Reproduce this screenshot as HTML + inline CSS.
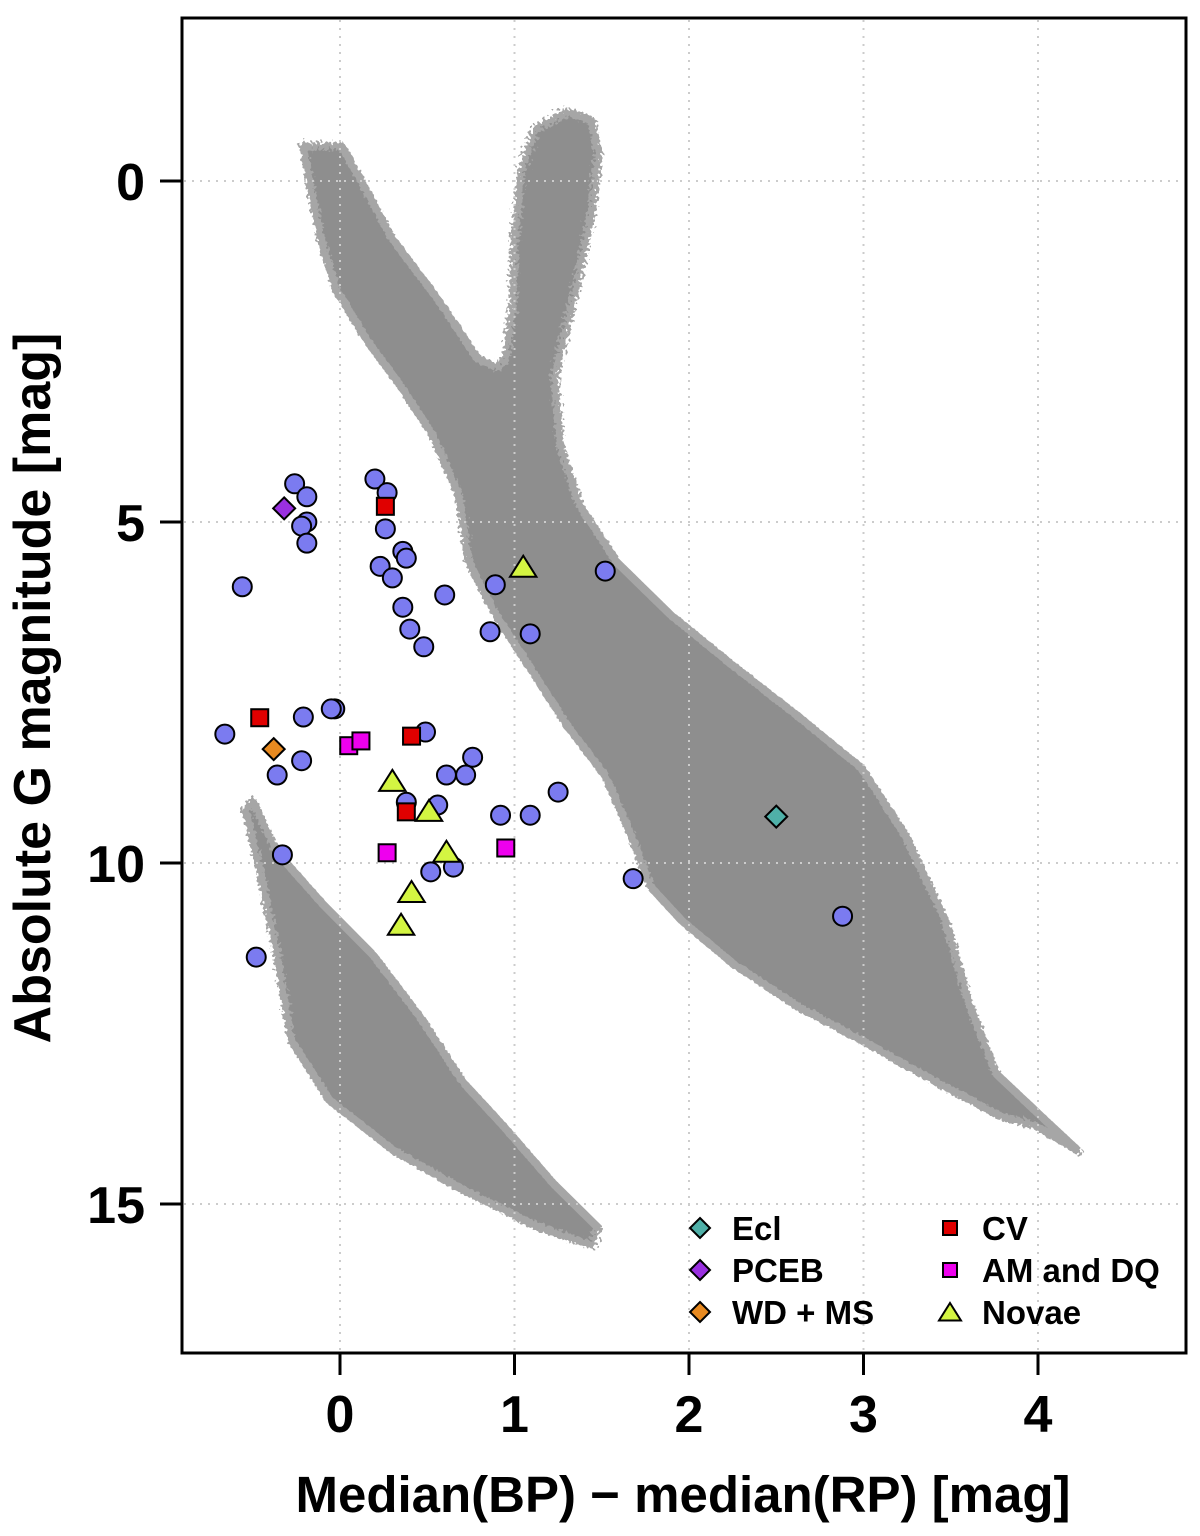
<!DOCTYPE html>
<html><head><meta charset="utf-8"><style>
html,body{margin:0;padding:0;background:#fff;}
svg{display:block;font-family:"Liberation Sans",Arial,sans-serif;}
</style></head><body>
<svg id="chart" width="1200" height="1536" viewBox="0 0 1200 1536">
<defs><filter id="fuzz" x="-5%" y="-5%" width="110%" height="110%"><feTurbulence type="fractalNoise" baseFrequency="0.35" numOctaves="1" seed="3" result="n"/><feDisplacementMap in="SourceGraphic" in2="n" scale="14"/></filter></defs>
<g id="bg"></g>
<g id="grid"></g>
<g id="marks"></g>
<rect x="182" y="18" width="1004" height="1335" fill="none" stroke="#000" stroke-width="3"/>
<g id="axes"></g>
<text x="683" y="1512" text-anchor="middle" font-size="51" font-weight="bold">Median(BP) − median(RP) [mag]</text>
<text transform="translate(50,688) rotate(-90)" text-anchor="middle" font-size="52" font-weight="bold">Absolute G magnitude [mag]</text>
<g id="legend"></g>
</svg>
<script>
const xTicks=[0,1,2,3,4];
const yTicks=[0,5,10,15];
const circX=[-0.26,-0.19,-0.19,-0.22,-0.19,-0.56,0.20,0.27,0.26,0.36,0.38,0.23,0.30,0.60,0.89,1.52,0.36,0.40,0.48,0.86,1.09,-0.03,-0.05,-0.21,-0.66,0.49,-0.22,-0.36,0.76,0.61,0.72,0.38,0.56,1.25,0.92,1.09,-0.33,0.52,0.65,1.68,-0.48,2.88];
const circY=[4.44,4.63,5.00,5.06,5.31,5.95,4.37,4.57,5.10,5.43,5.53,5.65,5.82,6.07,5.92,5.72,6.25,6.57,6.83,6.61,6.64,7.74,7.74,7.86,8.11,8.08,8.50,8.71,8.45,8.71,8.71,9.11,9.15,8.96,9.30,9.30,9.88,10.13,10.06,10.23,11.38,10.78];
const cvX=[0.26,-0.46,0.41,0.38];
const cvY=[4.77,7.87,8.14,9.25];
const amX=[0.05,0.12,0.27,0.95];
const amY=[8.28,8.21,9.85,9.78];
const novaX=[1.05,0.30,0.51,0.61,0.41,0.35];
const novaY=[5.67,8.81,9.25,9.85,10.44,10.92];
const pcebX=[-0.32], pcebY=[4.80];
const wdmsX=[-0.38], wdmsY=[8.33];
const eclX=[2.50], eclY=[9.32];
// background population outlines (colour, mag)
const msX=[-0.21,-0.17,-0.11,-0.02,0.16,0.34,0.53,0.68,0.74,0.89,1.08,1.30,1.52,1.67,1.78,1.96,2.25,2.62,2.99,3.43,3.79,3.98,4.23,4.02,3.76,3.61,3.47,3.24,2.99,2.62,2.25,1.89,1.59,1.37,1.26,1.23,1.30,1.37,1.44,1.48,1.44,1.30,1.12,1.04,1.00,0.99,0.95,0.89,0.79,0.56,0.30,0.12,0.01];
const msY=[-0.51,0.10,0.85,1.60,2.36,2.98,3.72,4.60,5.60,6.35,7.10,7.98,8.72,9.60,10.35,10.85,11.47,12.10,12.60,13.23,13.72,13.84,14.22,13.72,13.09,12.10,10.85,9.60,8.61,7.84,7.10,6.35,5.60,4.74,3.86,2.86,2.11,1.35,0.48,-0.40,-0.89,-1.01,-0.76,-0.15,0.85,1.86,2.61,2.73,2.61,1.73,0.85,-0.01,-0.51];
const wdX=[-0.54,-0.46,-0.36,-0.28,-0.06,0.31,0.74,1.15,1.44,1.48,1.23,0.93,0.71,0.45,0.19,-0.10,-0.36,-0.50];
const wdY=[9.22,10.10,11.35,12.60,13.48,14.22,14.84,15.35,15.60,15.35,14.72,13.84,13.23,12.23,11.35,10.60,9.85,9.09];

const X=v=>340+v*174.5, Y=v=>181+v*68.2;
const NS='http://www.w3.org/2000/svg';
function mk(tag,attrs,parent){const e=document.createElementNS(NS,tag);for(const k in attrs)e.setAttribute(k,attrs[k]);parent.appendChild(e);return e;}
const bg=document.getElementById('bg'),grid=document.getElementById('grid'),marks=document.getElementById('marks'),axes=document.getElementById('axes'),leg=document.getElementById('legend');
function poly(xs,ys,name){const p=mk('polygon',{points:xs.map((x,i)=>X(x)+','+Y(ys[i])).join(' '),fill:'#8e8e8e',stroke:'#a6a6a6','stroke-width':8,'stroke-linejoin':'round',filter:'url(#fuzz)'},bg);

}
poly(msX,msY,'main-sequence-and-giants');
poly(wdX,wdY,'white-dwarf-sequence');
xTicks.forEach(t=>{const l=mk('line',{x1:X(t),x2:X(t),y1:20,y2:1351,stroke:'#ccc','stroke-width':2,'stroke-dasharray':'2 6'},grid);


const tk=mk('line',{x1:X(t),x2:X(t),y1:1353,y2:1375,stroke:'#000','stroke-width':3},axes);


const tx=mk('text',{x:X(t),y:1432,'text-anchor':'middle','font-size':52,'font-weight':'bold'},axes);tx.textContent=t;

});
yTicks.forEach(t=>{const l=mk('line',{x1:184,x2:1184,y1:Y(t),y2:Y(t),stroke:'#ccc','stroke-width':2,'stroke-dasharray':'2 6'},grid);


const tk=mk('line',{x1:160,x2:182,y1:Y(t),y2:Y(t),stroke:'#000','stroke-width':3},axes);


const tx=mk('text',{x:145,y:Y(t)+19,'text-anchor':'end','font-size':52,'font-weight':'bold'},axes);tx.textContent=t;

});
function circle(cx,cy,parent){return mk('circle',{cx:cx,cy:cy,r:9.5,fill:'#7b7bf0',stroke:'#000','stroke-width':2},parent);}
function square(cx,cy,fill,parent,s){s=s||8.5;return mk('rect',{x:cx-s,y:cy-s,width:2*s,height:2*s,fill:fill,stroke:'#000','stroke-width':2},parent);}
function diamond(cx,cy,fill,parent,s){s=s||11;return mk('polygon',{points:`${cx},${cy-s} ${cx+s},${cy} ${cx},${cy+s} ${cx-s},${cy}`,fill:fill,stroke:'#000','stroke-width':2},parent);}
function tri(cx,cy,parent,s){s=s||12;return mk('polygon',{points:`${cx},${cy-s} ${cx+s*1.1},${cy+s*0.75} ${cx-s*1.1},${cy+s*0.75}`,fill:'#d4f542',stroke:'#000','stroke-width':2},parent);}
circX.forEach((v,i)=>{const e=circle(X(v),Y(circY[i]),marks);

});
cvX.forEach((v,i)=>{const e=square(X(v),Y(cvY[i]),'#e00000',marks);

});
amX.forEach((v,i)=>{const e=square(X(v),Y(amY[i]),'#ee00ee',marks);

});
novaX.forEach((v,i)=>{const e=tri(X(v),Y(novaY[i]),marks);

});
pcebX.forEach((v,i)=>{const e=diamond(X(v),Y(pcebY[i]),'#9a30e0',marks);

});
wdmsX.forEach((v,i)=>{const e=diamond(X(v),Y(wdmsY[i]),'#e88a20',marks);

});
eclX.forEach((v,i)=>{const e=diamond(X(v),Y(eclY[i]),'#4fb0a8',marks);

});
function ltext(x,y,s){const t=mk('text',{x:x,y:y+12,'font-size':33,'font-weight':'bold'},leg);t.textContent=s;

}
let e;
e=diamond(700,1228,'#4fb0a8',leg,10);


ltext(732,1228,'Ecl');
e=diamond(700,1270,'#9a30e0',leg,10);


ltext(732,1270,'PCEB');
e=diamond(700,1312,'#e88a20',leg,10);


ltext(732,1312,'WD + MS');
e=square(950,1228,'#e00000',leg,7);


ltext(982,1228,'CV');
e=square(950,1270,'#ee00ee',leg,7);


ltext(982,1270,'AM and DQ');
e=tri(950,1313,leg,10);


ltext(982,1312,'Novae');
</script>
</body></html>
